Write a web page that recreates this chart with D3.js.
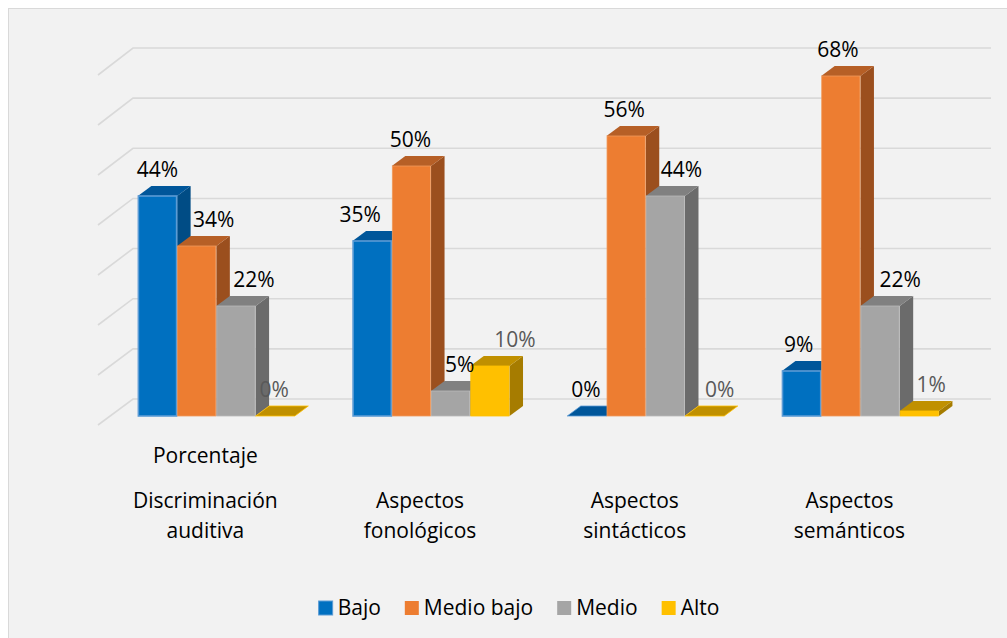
<!DOCTYPE html>
<html>
<head>
<meta charset="utf-8">
<script src="https://cdn.jsdelivr.net/npm/d3@7"></script>
<style>
  html, body { margin: 0; padding: 0; background: #fff; }
  svg { display: block; font-family: "Open Sans", "DejaVu Sans", sans-serif; }
</style>
</head>
<body>
<svg id="chart" width="1007" height="638"></svg>
<script>
// ── Data ───────────────────────────────────────────────
const categories = [
  ['Discriminación', 'auditiva'],
  ['Aspectos', 'fonológicos'],
  ['Aspectos', 'sintácticos'],
  ['Aspectos', 'semánticos']
];
const seriesNames = ['Bajo', 'Medio bajo', 'Medio', 'Alto'];
const bajo      = [44, 35, 0, 9];
const medioBajo = [34, 50, 56, 68];
const medio     = [22, 5, 44, 22];
const alto      = [0, 10, 0, 1];
const yTicks    = [0, 10, 20, 30, 40, 50, 60, 70];
const outerLabel = 'Porcentaje';

// label nudges (Excel pushes some labels sideways), per category / series
const labelShift = [
  [0, 17, 18, -1],
  [-12, -1, 9, 25],
  [-1, -2, 16, 15],
  [-3, -3, 20, 12]
];

const values = [bajo, medioBajo, medio, alto];

// ── Styles ─────────────────────────────────────────────
const COLORS = [
  { front: '#0070c0', top: '#00569a', side: '#004c85', edge: '#5b9bd5', label: '#000' },
  { front: '#ed7d31', top: '#b65f26', side: '#9b4f1e', edge: '#f19a5c', label: '#000' },
  { front: '#a5a5a5', top: '#808080', side: '#6b6b6b', edge: '#b8b8b8', label: '#000' },
  { front: '#ffc000', top: '#c09000', side: '#a67c00', edge: '#ffc000', label: '#595959' }
];
const DX = 13.5, DY = -10;      // bar depth
const FONT = 21;

const svg = d3.select('#chart');

// chart area
svg.append('rect')
  .attr('x', 8.5).attr('y', 8.5).attr('width', 1100).attr('height', 700)
  .attr('fill', '#f2f2f2').attr('stroke', '#d9d9d9').attr('stroke-width', 1);

// scales
const x0 = d3.scaleBand().domain(d3.range(categories.length))
  .range([109, 967.8]).paddingInner(0.269).paddingOuter(0.1345);
const x1 = d3.scaleBand().domain(d3.range(seriesNames.length))
  .range([0, x0.bandwidth()]);
const y = d3.scaleLinear().domain([0, 70]).range([416, 66]);        // bar front
const yFrameFront = d3.scaleLinear().domain([0, 70]).range([425, 75]);
const yWall = d3.scaleLinear().domain([0, 70]).range([399, 48]);
const FRAME_X0 = 98, WALL_X = 133, WALL_X1 = 991;

// gridlines (floor edge + back wall)
const grid = svg.append('g')
  .attr('fill', 'none').attr('stroke', '#d9d9d9').attr('stroke-width', 1.6);
yTicks.forEach(t => {
  grid.append('path')
    .attr('d', `M${FRAME_X0},${yFrameFront(t)}L${WALL_X},${yWall(t)}L${WALL_X1},${yWall(t)}`);
});

// bars
const bars = svg.append('g');
const labels = svg.append('g')
  .attr('font-size', FONT).attr('text-anchor', 'middle');

categories.forEach((cat, ci) => {
  seriesNames.forEach((s, si) => {
    const v = values[si][ci];
    const c = COLORS[si];
    const xl = x0(ci) + x1(si);
    const xr = xl + x1.bandwidth();
    const yb = y(0), yt = y(v);
    const g = bars.append('g');
    // side face
    g.append('path')
      .attr('d', `M${xr},${yt}L${xr + DX},${yt + DY}L${xr + DX},${yb + DY}L${xr},${yb}Z`)
      .attr('fill', c.side);
    // top face
    g.append('path')
      .attr('d', `M${xl},${yt}L${xl + DX},${yt + DY}L${xr + DX},${yt + DY}L${xr},${yt}Z`)
      .attr('fill', v === 0 ? c.top : c.top)
      .attr('stroke', v === 0 ? c.edge : 'none').attr('stroke-width', v === 0 ? 0.8 : 0);
    // front face
    if (v > 0) {
      g.append('rect')
        .attr('x', xl + 0.5).attr('y', yt)
        .attr('width', x1.bandwidth() - 1).attr('height', yb - yt)
        .attr('fill', c.front)
        .attr('stroke', c.edge).attr('stroke-width', si === 0 ? 1.6 : 0.8);
    }
    labels.append('text')
      .attr('x', xl + x1.bandwidth() / 2 + labelShift[ci][si])
      .attr('y', yt - 19)
      .attr('fill', c.label)
      .text(v + '%');
  });
});

// category axis labels (on the front edge of the floor)
const axisG = svg.append('g')
  .attr('font-size', FONT).attr('text-anchor', 'middle').attr('fill', '#000');
const catX = i => x0(i) + x0.bandwidth() / 2 - 11;
axisG.append('text').attr('x', catX(0)).attr('y', 463).text(outerLabel);
categories.forEach((lines, i) => {
  lines.forEach((ln, li) => {
    axisG.append('text').attr('x', catX(i)).attr('y', 508 + li * 30).text(ln);
  });
});

// legend
const legend = svg.append('g').attr('font-size', FONT).attr('fill', '#000');
const SW = 14, GAP = 5, ITEM_GAP = 24;
let lx = 0;
const items = seriesNames.map((name, i) => {
  const it = legend.append('g');
  it.append('rect').attr('x', 0).attr('y', 601).attr('width', SW).attr('height', SW)
    .attr('fill', COLORS[i].front)
    .attr('stroke', i === 0 ? COLORS[0].edge : 'none').attr('stroke-width', 1);
  const t = it.append('text').attr('x', SW + GAP).attr('y', 615).text(name);
  const w = SW + GAP + t.node().getComputedTextLength();
  it.attr('transform', `translate(${lx},0)`);
  lx += w + ITEM_GAP;
  return it;
});
const totalW = lx - ITEM_GAP;
legend.attr('transform', `translate(${519 - totalW / 2},0)`);
</script>
</body>
</html>
